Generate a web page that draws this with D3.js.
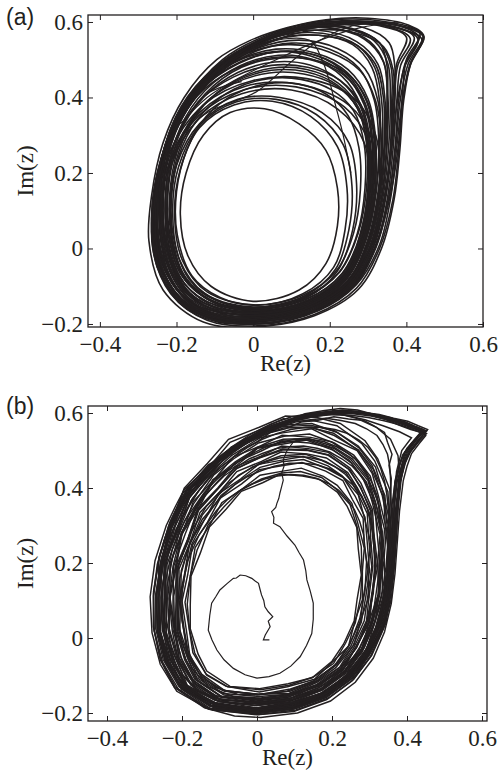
<!DOCTYPE html>
<html>
<head>
<meta charset="utf-8">
<script src="https://cdn.jsdelivr.net/npm/d3@7"></script>
<style>body{margin:0;background:#fff}</style>
</head>
<body>
<div class="container"></div>
<script>
// tick values shared by both panels
const xTicks = [-0.4, -0.2, 0, 0.2, 0.4, 0.6];
const yTicks = [-0.2, 0, 0.2, 0.4, 0.6];

// panel (a): closed orbits, [Re, Im] pairs in thousandths
const loopsA = [
  [0,-140, 120,-110, 190,-40, 220,60, 220,160, 190,260, 120,330, 30,370, -60,360, -130,300, -175,200, -190,90, -170,-20, -110,-100],
  [10,-150, 130,-120, 210,-50, 240,50, 245,160, 220,270, 150,350, 50,390, -50,380, -140,320, -190,210, -205,90, -185,-30, -120,-115],
  [0,-160, 140,-130, 220,-60, 260,50, 270,170, 250,280, 180,360, 70,400, -40,395, -140,330, -200,220, -215,100, -200,-30, -130,-125],
  [10,-165, 150,-135, 240,-65, 280,40, 300,160, 290,280, 220,370, 100,420, -30,410, -140,345, -210,230, -225,100, -210,-35, -140,-130],
  [0,-170, 150,-140, 250,-70, 300,40, 320,170, 310,290, 250,380, 120,435, -20,430, -140,360, -215,240, -235,100, -215,-40, -150,-140],
  [20,-175, 160,-145, 260,-75, 310,40, 330,170, 320,300, 260,400, 140,450, 0,445, -130,380, -220,250, -245,110, -225,-40, -155,-145],
  [0,-155, 135,-125, 215,-55, 250,50, 258,165, 235,275, 165,355, 60,395, -45,388, -140,325, -195,215, -210,95, -192,-30, -125,-120],
  [5,-168, 148,-138, 245,-68, 292,40, 310,165, 300,285, 238,375, 112,428, -25,420, -142,352, -213,235, -230,100, -212,-38, -145,-135],
  [0,-200, 150,-170, 260,-100, 320,10, 355,140, 372,270, 385,400, 405,490, 443,565, 370,593, 220,600, 70,565, -70,500, -170,390, -235,250, -262,100, -245,-40, -175,-150, -90,-190],
  [10,-195, 160,-165, 265,-90, 325,20, 360,150, 380,280, 390,410, 400,500, 435,570, 350,600, 200,605, 50,570, -80,500, -180,380, -240,240, -265,90, -250,-50, -180,-155, -90,-195],
  [0,-190, 150,-160, 255,-90, 315,20, 345,150, 360,280, 365,400, 375,490, 400,560, 330,590, 190,595, 40,555, -90,480, -180,370, -240,230, -260,90, -240,-50, -170,-150, -80,-185],
  [20,-185, 160,-155, 250,-85, 300,20, 330,150, 345,280, 350,400, 350,480, 330,545, 260,580, 140,585, 10,540, -100,470, -190,360, -245,220, -262,80, -240,-55, -170,-150, -80,-180],
  [10,-180, 150,-150, 245,-80, 295,30, 320,150, 330,280, 330,390, 310,480, 260,540, 170,565, 60,555, -50,505, -140,420, -210,310, -250,180, -255,50, -225,-70, -155,-150, -70,-178],
  [0,-185, 140,-160, 245,-95, 305,0, 340,120, 360,250, 375,380, 395,480, 430,555, 380,585, 260,595, 110,575, -30,520, -140,420, -215,290, -250,140, -245,0, -190,-120, -100,-175],
  [10,-205, 160,-175, 270,-105, 330,0, 365,130, 380,260, 390,390, 410,490, 445,560, 400,585, 280,598, 120,580, -20,525, -130,430, -210,300, -255,150, -262,0, -215,-120, -120,-190],
  [0,-180, 140,-150, 240,-80, 290,30, 310,160, 310,280, 290,380, 240,460, 150,510, 40,520, -70,480, -160,390, -220,270, -245,130, -235,-10, -180,-120, -90,-170],
  [10,-190, 150,-160, 250,-90, 305,20, 330,150, 335,280, 320,390, 280,470, 200,520, 90,540, -30,510, -130,430, -205,310, -245,170, -250,20, -200,-110, -100,-180],
  [0,-195, 150,-165, 255,-95, 315,10, 345,140, 360,270, 370,390, 370,480, 355,545, 290,585, 170,590, 30,550, -90,475, -185,365, -243,225, -265,80, -245,-60, -175,-155, -85,-190],
  [20,-200, 170,-165, 270,-95, 330,10, 360,140, 375,270, 390,395, 410,485, 440,555, 390,580, 300,595, 160,585, 20,545, -100,460, -190,340, -245,200, -258,60, -230,-70, -150,-165],
  [0,-200, 150,-170, 260,-100, 320,5, 350,130, 365,260, 375,390, 385,485, 420,560, 350,590, 230,603, 90,580, -40,520, -150,420, -225,280, -258,130, -255,-20, -200,-135, -100,-190],
  [0,-208, 160,-178, 275,-108, 335,0, 368,130, 383,262, 393,392, 412,492, 446,562, 405,592, 300,610, 190,606, 90,585, -10,550, -95,500, -180,400, -235,280, -265,140, -272,20, -235,-110, -130,-195],
  [15,-192, 155,-162, 258,-92, 318,15, 348,145, 362,275, 368,395, 365,475, 340,535, 270,570, 160,578, 40,545, -70,480, -165,380, -228,250, -255,110, -245,-30, -185,-140, -95,-185],
  [5,-185, 145,-155, 245,-88, 302,20, 328,150, 338,280, 335,395, 318,478, 275,535, 195,562, 90,560, -20,520, -120,440, -195,330, -240,195, -252,55, -232,-70, -165,-150, -80,-180],
  [0,-175, 145,-148, 242,-80, 294,30, 315,160, 318,285, 300,385, 255,455, 175,495, 75,505, -30,480, -125,410, -195,305, -235,175, -242,40, -215,-80, -150,-150, -70,-172],
  [0,-158, 135,-130, 225,-62, 272,40, 292,160, 290,275, 262,365, 205,420, 125,448, 40,450, -50,422, -130,360, -185,270, -212,150, -208,30, -168,-80, -90,-140],
  [5,-162, 140,-134, 232,-66, 280,38, 300,160, 298,280, 272,372, 215,432, 132,462, 42,465, -52,436, -138,372, -195,278, -222,152, -215,25, -175,-86, -92,-145],
  [0,-168, 140,-140, 236,-72, 286,36, 306,160, 306,282, 282,380, 226,446, 142,480, 48,485, -52,454, -142,388, -202,288, -228,150, -222,20, -180,-92, -96,-152],
  [8,-172, 146,-144, 240,-74, 290,36, 312,162, 312,286, 290,388, 236,460, 150,500, 52,506, -50,474, -146,404, -208,300, -234,156, -228,16, -184,-98, -98,-158],
  [0,-176, 142,-148, 242,-78, 294,32, 318,160, 320,288, 300,396, 248,474, 162,518, 60,528, -46,496, -146,424, -212,314, -240,160, -234,12, -188,-104, -100,-162],
  [10,-178, 150,-150, 248,-82, 300,26, 326,150, 334,280, 326,390, 292,476, 220,530, 120,552, 10,530, -100,468, -185,370, -235,230, -240,80, -210,-50, -130,-150],
  [0,-182, 146,-154, 250,-86, 305,24, 332,150, 342,282, 340,400, 318,490, 256,548, 150,572, 30,552, -85,490, -180,385, -236,245, -246,95, -220,-45, -140,-155],
  [6,-186, 152,-158, 254,-90, 310,20, 338,148, 350,280, 352,400, 340,495, 290,555, 190,585, 70,570, -50,515, -155,420, -225,285, -250,140, -240,-10, -180,-130, -90,-180],
  [10,-165, 148,-138, 240,-70, 288,36, 306,158, 302,276, 276,372, 222,438, 140,474, 50,478, -44,446, -128,380, -184,284, -214,160, -212,36, -176,-80, -98,-146],
  [0,-170, 144,-142, 238,-74, 288,34, 310,160, 312,284, 292,386, 244,462, 168,510, 72,522, -30,496, -128,428, -196,326, -232,190, -232,50, -196,-70, -110,-150],
  [4,-190, 150,-160, 252,-92, 308,14, 336,140, 348,272, 350,396, 342,490, 305,548, 230,580, 120,582, 0,540, -110,466, -195,360, -242,220, -252,70, -222,-70, -140,-165],
  [0,-160, 138,-134, 232,-68, 282,38, 302,160, 300,282, 280,382, 232,456, 158,500, 66,512, -34,484, -126,418, -190,320, -224,190, -224,54, -190,-66, -108,-140],
  [0,-195, 154,-166, 258,-98, 315,8, 344,134, 358,264, 362,390, 360,480, 330,545, 258,583, 150,590, 30,556, -85,490, -178,386, -236,250, -258,100, -244,-50, -180,-150, -92,-190],
  [0,-150, 130,-124, 218,-58, 262,40, 280,156, 276,268, 248,352, 192,408, 116,436, 34,436, -50,408, -122,350, -172,264, -200,150, -198,36, -160,-72, -86,-130],
  [5,-172, 145,-146, 242,-76, 292,32, 314,158, 316,284, 296,390, 246,466, 164,512, 66,522, -38,490, -138,418, -204,310, -236,168, -232,28, -192,-92, -104,-156],
  [0,-184, 148,-156, 250,-88, 306,20, 334,146, 344,276, 344,396, 326,488, 270,548, 168,578, 50,562, -66,504, -168,404, -232,266, -250,115, -234,-30, -170,-140, -88,-180],
  [10,-164, 144,-136, 236,-68, 284,36, 304,158, 304,280, 280,376, 228,444, 148,486, 56,494, -40,466, -130,400, -192,304, -222,172, -220,40, -184,-76, -104,-142],
  [0,-188, 150,-160, 254,-92, 310,16, 340,142, 354,274, 358,398, 352,488, 316,550, 240,584, 130,588, 10,550, -100,480, -188,376, -240,236, -256,85, -236,-60, -170,-155, -88,-186],
  [5,-178, 146,-150, 244,-80, 296,28, 322,154, 328,284, 316,394, 276,478, 200,528, 100,544, -8,516, -110,446, -188,340, -232,200, -238,56, -206,-74, -128,-150],
  [0,-192, 152,-164, 256,-96, 314,10, 344,136, 360,266, 368,392, 378,486, 410,556, 350,588, 230,600, 100,580, -25,525, -135,430, -212,300, -250,150, -250,0, -198,-125, -100,-180],
  [10,-198, 158,-168, 264,-100, 322,6, 354,134, 370,264, 380,392, 396,488, 432,560, 380,590, 260,602, 120,586, -10,534, -122,440, -202,312, -250,165, -260,15, -215,-115, -118,-185],
  [0,-156, 134,-128, 226,-62, 274,40, 296,160, 296,278, 272,372, 218,434, 138,468, 48,472, -46,442, -132,378, -188,286, -216,164, -214,36, -176,-78, -96,-138]
];
// panel (a): open pieces of the orbit
const openA = [
  [-190,330, -120,400, -40,450, 60,500, 170,550, 280,585, 370,598],
  [-230,200, -140,345, 10,416, 100,495, 167,547, 260,590, 380,598],
  [-20,520, 80,555, 150,550, 180,500, 200,440, 215,380, 235,300, 255,200],
  [-120,412, -70,432, -30,442]
];

// panel (b): noisy orbits, thousandths
const loopsB = [
  [0,-192, 88,-181, 172,-150, 238,-104, 290,-45, 322,28, 343,100, 352,188, 360,262, 366,350, 374,418, 395,495, 424,528, 447,552, 415,560, 385,575, 345,586, 305,598, 258,600, 215,606, 168,598, 118,592, 72,572, 30,562, -12,540, -48,518, -92,484, -130,462, -168,418, -198,386, -232,300, -258,198, -270,108, -263,12, -240,-70, -196,-138, -112,-178],
  [8,-200, 96,-186, 178,-155, 246,-108, 296,-46, 330,22, 350,98, 360,180, 366,258, 372,342, 380,424, 390,462, 402,488, 430,522, 452,545, 425,556, 398,566, 356,580, 318,590, 272,604, 228,608, 180,600, 130,594, 86,576, 42,566, 0,540, -40,520, -80,488, -118,466, -152,424, -186,395, -210,340, -228,300, -256,205, -268,112, -266,18, -246,-60, -202,-132, -120,-180],
  [-5,-180, 84,-170, 166,-140, 230,-96, 280,-38, 312,35, 332,110, 344,190, 350,270, 354,350, 358,425, 352,460, 360,490, 348,522, 340,548, 312,566, 285,580, 244,584, 205,590, 160,580, 118,576, 76,558, 36,548, -2,522, -40,502, -78,470, -112,444, -146,404, -172,372, -216,290, -244,200, -256,108, -252,20, -230,-60, -188,-125, -112,-166],
  [2,-172, 86,-162, 162,-134, 224,-90, 272,-32, 302,38, 322,112, 332,190, 334,268, 328,342, 320,380, 308,412, 292,440, 270,470, 244,492, 212,510, 178,524, 140,530, 100,530, 62,522, 24,510, -12,492, -48,472, -82,446, -112,418, -142,386, -192,314, -226,236, -244,152, -248,66, -238,-16, -210,-88, -160,-140, -90,-166],
  [10,-160, 92,-150, 166,-122, 224,-80, 266,-24, 294,44, 310,118, 316,196, 312,274, 304,312, 294,346, 278,378, 256,408, 226,432, 196,450, 160,462, 124,466, 86,466, 46,458, 10,446, -26,430, -60,408, -92,380, -146,316, -184,240, -206,158, -212,74, -202,-8, -174,-80, -130,-130, -64,-156],
  [-4,-196, 92,-184, 180,-152, 244,-102, 294,-40, 326,32, 346,104, 356,184, 362,266, 370,346, 384,426, 396,468, 410,498, 434,530, 455,556, 430,566, 402,578, 364,586, 326,596, 280,602, 232,598, 188,596, 142,588, 96,578, 52,565, 12,548, -28,528, -66,500, -104,470, -140,436, -176,402, -204,360, -226,310, -250,218, -264,124, -262,30, -244,-54, -204,-126, -124,-174],
  [6,-186, 94,-174, 174,-146, 238,-100, 286,-42, 318,30, 338,104, 348,184, 352,264, 350,344, 346,384, 340,418, 330,452, 316,482, 296,508, 272,528, 240,546, 208,556, 170,562, 130,562, 90,556, 52,545, 14,530, -22,510, -58,486, -94,458, -126,428, -156,392, -204,314, -236,228, -252,138, -254,48, -240,-36, -208,-108, -150,-160, -76,-184],
  [0,-205, 98,-196, 186,-164, 254,-114, 302,-50, 334,20, 354,96, 364,176, 370,258, 376,340, 384,420, 392,460, 404,492, 426,522, 448,548, 420,562, 396,574, 354,588, 312,596, 268,608, 222,612, 176,606, 128,598, 82,580, 38,566, -6,544, -46,522, -86,494, -126,462, -160,428, -194,396, -218,350, -242,300, -272,206, -285,110, -280,14, -258,-70, -214,-142, -128,-190],
  [4,-176, 88,-166, 166,-138, 230,-92, 276,-34, 306,36, 324,110, 332,188, 332,266, 322,340, 312,372, 296,404, 278,432, 254,458, 226,478, 194,496, 160,506, 124,512, 86,510, 50,505, 14,492, -20,478, -54,456, -88,432, -118,402, -146,372, -192,300, -224,222, -240,138, -242,52, -228,-30, -198,-98, -148,-148, -74,-172],
  [-8,-188, 82,-178, 168,-148, 234,-104, 284,-44, 316,28, 336,102, 346,182, 352,262, 358,340, 368,414, 378,452, 388,488, 412,520, 436,548, 406,560, 376,570, 336,580, 296,588, 250,594, 206,596, 160,592, 116,584, 72,570, 30,556, -10,534, -50,512, -88,482, -126,452, -156,416, -184,378, -228,292, -254,198, -264,104, -258,14, -234,-66, -190,-132, -112,-172],
  [10,-212, 108,-200, 196,-168, 262,-118, 310,-54, 340,16, 358,92, 368,172, 374,254, 380,338, 390,420, 400,458, 412,492, 432,518, 450,540, 432,556, 412,568, 370,580, 330,592, 282,598, 236,604, 188,600, 140,594, 94,582, 50,570, 8,550, -34,530, -74,504, -112,474, -146,440, -182,406, -208,360, -232,310, -260,220, -276,124, -276,28, -258,-58, -220,-132, -140,-186, -60,-208],
  [-2,-168, 82,-158, 158,-130, 220,-86, 264,-28, 292,42, 308,118, 314,196, 310,272, 302,310, 294,346, 280,378, 260,410, 236,436, 206,458, 172,474, 136,482, 98,484, 60,480, 24,470, -12,456, -46,434, -80,410, -136,350, -180,276, -208,196, -222,112, -220,28, -204,-50, -170,-112, -110,-154],
  [2,-194, 94,-182, 176,-152, 242,-106, 292,-44, 326,26, 346,100, 358,180, 364,260, 370,344, 378,424, 386,460, 398,494, 420,526, 444,556, 416,566, 390,576, 350,586, 312,596, 266,600, 222,602, 178,596, 134,590, 90,576, 46,562, 6,542, -34,520, -72,492, -112,462, -148,426, -182,392, -208,346, -230,302, -254,206, -268,112, -266,20, -244,-62, -200,-134, -118,-182],
  [6,-190, 96,-178, 178,-148, 242,-102, 290,-42, 322,30, 342,106, 352,186, 356,266, 358,346, 356,424, 354,458, 348,490, 336,516, 320,540, 292,558, 262,572, 224,580, 184,586, 142,582, 102,576, 62,562, 22,548, -16,526, -54,502, -90,474, -124,444, -154,410, -182,372, -224,288, -250,198, -262,106, -258,16, -236,-64, -194,-130, -114,-176],
  [0,-152, 80,-142, 152,-114, 208,-72, 248,-16, 274,52, 288,126, 292,202, 284,276, 274,310, 260,342, 240,370, 218,394, 190,412, 158,426, 124,434, 90,436, 54,432, 20,424, -14,410, -48,392, -80,368, -108,340, -154,276, -186,204, -200,126, -200,46, -186,-30, -156,-92, -110,-132, -52,-150],
  [-4,-198, 90,-188, 176,-156, 244,-108, 294,-46, 328,24, 348,98, 360,178, 366,260, 372,342, 380,422, 388,458, 400,492, 422,524, 446,554, 420,565, 396,576, 356,586, 316,596, 272,604, 226,606, 180,600, 136,594, 92,580, 48,568, 8,548, -32,526, -70,498, -108,468, -142,432, -176,398, -202,354, -224,306, -254,212, -270,118, -270,24, -250,-58, -208,-130, -126,-182],
  [7,-135, 83,-122, 147,-106, 200,-62, 231,-16, 259,45, 267,104, 278,168, 270,238, 266,295, 240,352, 215,388, 167,423, 121,432, 62,437, 15,414, -42,391, -82,344, -127,296, -151,227, -176,165, -178,88, -178,25, -157,-43, -134,-88, -72,-129],
  [6,-144, 81,-130, 153,-110, 200,-65, 244,-22, 261,46, 281,102, 281,178, 286,240, 268,309, 253,359, 214,407, 177,431, 118,453, 69,445, 8,434, -39,398, -94,361, -127,299, -165,241, -178,163, -192,95, -180,19, -171,-39, -134,-99, -82,-129],
  [5,-151, 89,-136, 151,-115, 212,-69, 244,-22, 276,46, 283,106, 296,183, 286,247, 283,319, 254,370, 229,420, 183,445, 120,468, 70,460, 6,449, -41,411, -98,373, -132,309, -172,248, -185,168, -200,98, -188,18, -179,-48, -147,-97, -86,-140],
  [4,-150, 85,-148, 162,-114, 210,-79, 259,-18, 276,46, 298,109, 296,188, 303,255, 284,329, 270,382, 226,433, 189,459, 123,484, 70,475, 4,463, -44,424, -102,385, -138,319, -179,256, -193,173, -208,101, -195,18, -186,-45, -146,-108, -91,-140],
  [2,-163, 92,-147, 158,-125, 224,-76, 258,-26, 292,46, 299,112, 309,193, 303,268, 300,333, 268,400, 242,441, 185,480, 134,491, 64,496, 12,471, -54,444, -99,390, -152,335, -178,256, -208,184, -208,97, -210,25, -185,-54, -160,-106, -88,-152],
  [1,-162, 94,-159, 162,-124, 230,-85, 265,-22, 300,41, 308,121, 322,192, 312,276, 308,342, 277,413, 248,453, 190,495, 137,505, 66,512, 10,485, -57,457, -104,401, -158,345, -185,263, -216,190, -216,98, -218,24, -193,-58, -166,-110, -92,-158],
  [0,-172, 92,-160, 174,-134, 228,-82, 280,-29, 300,48, 324,117, 322,204, 328,276, 308,359, 292,416, 246,474, 202,501, 132,528, 74,518, 2,506, -52,462, -116,420, -156,346, -200,278, -216,186, -232,108, -218,16, -208,-52, -164,-122, -104,-157],
  [-1,-180, 98,-165, 170,-140, 242,-87, 279,-32, 316,48, 325,120, 339,208, 329,292, 324,361, 292,436, 261,479, 199,523, 143,535, 67,541, 9,512, -63,483, -113,424, -170,364, -199,278, -232,199, -232,102, -234,24, -208,-63, -178,-119, -100,-170],
  [-2,-186, 95,-170, 182,-145, 240,-96, 294,-26, 316,48, 341,122, 339,214, 345,291, 324,378, 307,439, 267,500, 203,529, 146,558, 68,547, 8,534, -66,488, -117,443, -176,365, -206,293, -240,196, -240,112, -242,15, -215,-58, -184,-131, -104,-169],
  [-4,-194, 100,-176, 178,-150, 254,-94, 293,-35, 332,42, 342,132, 356,211, 346,307, 341,380, 307,460, 273,506, 208,552, 149,566, 69,570, 7,540, -69,509, -122,447, -182,383, -213,292, -248,209, -248,107, -250,23, -222,-68, -191,-128, -109,-182],
  [-5,-199, 102,-182, 182,-155, 259,-97, 300,-37, 340,42, 350,135, 364,216, 354,314, 349,390, 314,472, 279,519, 213,566, 152,579, 70,585, 6,554, -72,522, -126,458, -188,392, -220,299, -255,213, -256,109, -257,15, -229,-71, -197,-132, -113,-187],
  [8,-138, 86,-126, 150,-104, 204,-68, 236,-14, 262,40, 276,108, 280,172, 278,244, 266,300, 248,356, 210,398, 172,428, 116,444, 66,440, 12,424, -42,396, -88,350, -130,302, -160,234, -178,166, -186,90, -180,22, -166,-40, -136,-96, -78,-130],
  [2,-150, 88,-142, 156,-116, 214,-70, 250,-22, 278,42, 290,110, 300,180, 294,254, 288,322, 262,378, 230,428, 186,452, 124,476, 66,470, 8,455, -46,420, -96,380, -140,316, -174,250, -192,172, -204,96, -194,22, -182,-46, -150,-102, -86,-142],
  [4,-166, 90,-152, 166,-128, 226,-80, 266,-24, 296,40, 306,118, 318,192, 308,272, 306,338, 274,404, 248,448, 188,488, 136,500, 70,502, 6,480, -54,452, -106,396, -156,340, -182,260, -214,186, -212,100, -214,20, -190,-56, -162,-112, -96,-156],
  [0,-176, 96,-164, 172,-136, 236,-86, 280,-30, 310,46, 328,118, 330,206, 334,284, 316,362, 296,426, 254,478, 200,512, 138,532, 70,530, 6,510, -58,470, -114,424, -162,354, -202,280, -224,192, -234,104, -226,18, -210,-58, -170,-120, -102,-162],
  [-4,-188, 98,-174, 180,-146, 250,-96, 292,-30, 324,44, 344,126, 348,212, 350,300, 334,380, 310,450, 270,502, 206,540, 146,562, 70,560, 6,538, -66,498, -120,446, -180,374, -210,294, -244,202, -246,110, -246,20, -220,-64, -186,-130, -108,-176],
  [-6,-202, 104,-188, 186,-158, 262,-102, 304,-36, 344,40, 356,136, 368,220, 360,318, 354,396, 322,478, 288,526, 222,572, 160,588, 76,592, 6,562, -76,530, -132,466, -194,400, -228,306, -262,214, -262,110, -264,14, -236,-74, -202,-136, -118,-192],
  [2,-190, 94,-178, 178,-148, 244,-100, 292,-40, 324,30, 344,104, 354,186, 358,266, 362,346, 368,420, 382,470, 400,506, 428,536, 452,552, 426,562, 394,570, 352,582, 304,592, 256,598, 208,600, 160,594, 110,584, 62,566, 18,546, -24,522, -64,494, -104,462, -142,428, -176,390, -204,346, -228,296, -250,204, -262,110, -258,18, -238,-62, -196,-130, -114,-176],
  [-2,-196, 92,-186, 176,-154, 242,-106, 292,-46, 324,24, 344,98, 356,178, 362,262, 366,344, 372,420, 380,460, 394,496, 420,528, 440,548, 410,556, 378,568, 340,584, 298,596, 250,604, 204,606, 156,600, 108,590, 62,574, 20,554, -22,530, -62,502, -102,472, -138,440, -172,404, -200,362, -224,312, -248,220, -262,124, -262,28, -244,-56, -204,-128, -122,-180],
  [3,-170, 90,-161, 170,-130, 234,-88, 274,-24, 306,40, 318,122, 328,198, 320,282, 314,352, 284,422, 252,466, 194,508, 140,520, 66,526, 10,498, -58,468, -108,414, -162,352, -192,276, -222,192, -224,100, -224,22, -200,-58, -170,-114, -98,-164],
  [-2,-180, 96,-170, 176,-138, 240,-92, 286,-26, 314,44, 334,124, 334,206, 340,290, 320,368, 302,432, 258,488, 206,520, 140,544, 72,538, 4,520, -62,478, -116,434, -168,360, -206,286, -230,196, -238,106, -234,16, -212,-60, -176,-126, -102,-168],
  [-3,-188, 100,-172, 178,-148, 248,-92, 290,-34, 328,44, 338,128, 352,210, 342,302, 338,374, 304,452, 270,500, 204,546, 148,560, 66,564, 8,536, -66,502, -118,444, -180,376, -208,292, -246,204, -244,108, -248,20, -218,-66, -190,-126, -106,-180],
  [-4,-192, 98,-182, 184,-148, 252,-100, 298,-30, 330,46, 348,130, 352,218, 356,302, 336,388, 316,456, 270,512, 214,548, 146,572, 74,568, 2,548, -68,504, -126,452, -182,378, -218,298, -244,206, -254,112, -248,18, -226,-62, -188,-132, -112,-178],
  [4,-156, 90,-150, 160,-118, 220,-78, 256,-20, 286,46, 296,116, 306,190, 298,264, 294,332, 266,392, 238,440, 184,470, 130,490, 64,486, 8,466, -50,434, -100,384, -146,328, -178,254, -202,180, -204,96, -206,22, -182,-52, -156,-104, -90,-148],
  [-2,-200, 100,-186, 184,-156, 256,-104, 302,-40, 338,36, 352,120, 362,206, 364,292, 366,376, 372,444, 386,500, 412,534, 380,550, 336,566, 288,582, 236,594, 180,598, 126,592, 70,576, 18,556, -34,528, -82,494, -126,456, -166,412, -202,356, -232,290, -256,200, -264,108, -262,14, -240,-68, -200,-136, -118,-184],
  [2,-174, 94,-164, 170,-136, 234,-86, 280,-28, 306,44, 326,120, 326,204, 332,280, 312,360, 296,420, 250,476, 204,506, 134,530, 74,522, 0,508, -54,466, -118,422, -158,350, -202,280, -218,188, -234,106, -220,18, -208,-54, -168,-122, -104,-162],
  [0,-164, 92,-154, 164,-126, 228,-84, 264,-22, 298,42, 308,120, 316,194, 310,272, 302,340, 276,404, 244,450, 192,488, 132,502, 68,504, 8,482, -56,452, -104,398, -158,340, -184,262, -212,186, -214,98, -212,22, -192,-54, -160,-110, -94,-156],
  [4,-204, 104,-192, 190,-160, 258,-110, 306,-46, 338,26, 358,104, 366,186, 372,270, 376,352, 380,432, 376,486, 356,530, 318,562, 266,586, 208,600, 150,600, 92,590, 36,570, -16,544, -64,512, -110,474, -150,432, -188,384, -220,330, -246,266, -266,196, -276,118, -276,30, -258,-54, -218,-130, -136,-186],
  [4,-200, 96,-190, 182,-158, 250,-110, 298,-48, 332,22, 352,96, 362,176, 368,258, 374,340, 382,418, 392,462, 406,496, 428,526, 450,550, 424,560, 400,572, 360,584, 320,594, 274,602, 228,606, 182,602, 134,596, 88,580, 44,566, 2,546, -38,522, -78,494, -118,462, -154,426, -188,392, -214,346, -236,298, -262,206, -276,112, -274,18, -252,-64, -210,-136, -128,-188]
];
// panel (b): transient spiralling out from the centre
const transientB = [33,-5, 17,-5, 22,8, 35,30, 30,45, 42,57, 30,70, 21,83, 18,100, 12,115, 8,130, 4,146, -5,152, -14,159, -30,166, -45,168, -55,160, -63,159, -80,145, -99,128, -110,110, -121,93, -126,60, -130,21, -120,-5, -107,-32, -88,-58, -63,-81, -32,-98, 0,-107, 32,-103, 61,-94, 90,-75, 115,-50, 132,-20, 146,12, 150,50, 150,93, 142,125, 133,155, 130,180, 124,208, 112,228, 101,248, 80,272, 61,297, 44,306, 45,322, 39,337, 50,348, 53,359, 58,372, 61,386, 66,405, 70,421, 66,440, 72,458, 70,475, 80,500, 95,520];

const WIDTH = 500;
const HEIGHT = 770;
const INK = "#231f20";
const SERIF = "'Liberation Serif', 'Times New Roman', serif";

var translate = function (x, y) {
    return "translate(" + x + "," + y + ")";
};

var toPoints = function (arr) {
    return d3.range(0, arr.length, 2).map(function (i) { return [arr[i] / 1000, arr[i + 1] / 1000]; });
};

var fmt = function (d) { return d === 0 ? "0" : d3.format(".1f")(d); };

var svg = d3.select('.container').append('svg')
    .attr('width', WIDTH)
    .attr('height', HEIGHT);

var drawPanel = function (p) {
    var w = p.right - p.left, h = p.bottom - p.top;
    var xScale = d3.scaleLinear().domain(p.xDomain).range([0, w]);
    var yScale = d3.scaleLinear().domain(p.yDomain).range([h, 0]);

    var g = svg.append('g').attr('transform', translate(p.left, p.top));

    g.append('clipPath').attr('id', 'clip' + p.id)
        .append('rect').attr('width', w).attr('height', h);

    var plot = g.append('g').attr('clip-path', 'url(#clip' + p.id + ')');

    var closed = d3.line()
        .x(function (d) { return xScale(d[0]); })
        .y(function (d) { return yScale(d[1]); })
        .curve(p.closedCurve);
    var open = d3.line()
        .x(function (d) { return xScale(d[0]); })
        .y(function (d) { return yScale(d[1]); })
        .curve(p.openCurve);

    plot.selectAll('path.loop').data(p.loops).enter().append('path')
        .attr('class', 'loop')
        .attr('d', function (d) { return closed(toPoints(d)); })
        .attr('fill', 'none').attr('stroke', INK).attr('stroke-width', p.sw);
    plot.selectAll('path.open').data(p.open).enter().append('path')
        .attr('class', 'open')
        .attr('d', function (d) { return open(toPoints(d)); })
        .attr('fill', 'none').attr('stroke', INK).attr('stroke-width', 1.2);

    var style = function (ax) {
        ax.select('.domain').remove();
        ax.selectAll('.tick line').attr('stroke', INK).attr('stroke-width', 1);
        ax.selectAll('.tick text')
            .style('font-family', SERIF).style('font-size', '23px')
            .attr('fill', INK);
    };

    g.append('g').attr('transform', translate(0, h))
        .call(d3.axisBottom(xScale).tickValues(xTicks).tickSize(-5).tickPadding(9).tickFormat(fmt))
        .call(style);
    g.append('g')
        .call(d3.axisLeft(yScale).tickValues(yTicks).tickSize(-5).tickPadding(5).tickFormat(fmt))
        .call(style);
    g.append('g')
        .call(d3.axisTop(xScale).tickValues(xTicks).tickSize(-5).tickFormat(''))
        .call(style);
    g.append('g').attr('transform', translate(w, 0))
        .call(d3.axisRight(yScale).tickValues(yTicks).tickSize(-5).tickFormat(''))
        .call(style);

    g.append('rect').attr('width', w).attr('height', h)
        .attr('fill', 'none').attr('stroke', INK).attr('stroke-width', 1.3);

    g.append('text').text('Re(z)')
        .attr('x', w / 2).attr('y', h + 44)
        .attr('text-anchor', 'middle')
        .style('font-family', SERIF).style('font-size', '23px').attr('fill', INK);
    svg.append('text').text('Im(z)')
        .attr('transform', translate(33, p.top + h / 2) + ' rotate(-90)')
        .attr('text-anchor', 'middle')
        .style('font-family', SERIF).style('font-size', '23px').attr('fill', INK);
    svg.append('text').text(p.label)
        .attr('x', 6).attr('y', p.labelY)
        .style('font-family', "'Liberation Sans', Arial, sans-serif").style('font-size', '23px').attr('fill', INK);
};

window.onload = function () {
    drawPanel({
        id: 'a', label: '(a)', labelY: 25,
        left: 88, right: 483, top: 15, bottom: 327,
        xDomain: [-0.431, 0.6], yDomain: [-0.208, 0.6185],
        loops: loopsA, open: openA, sw: 1.6,
        closedCurve: d3.curveCatmullRomClosed.alpha(0.5),
        openCurve: d3.curveCatmullRom.alpha(0.5)
    });
    drawPanel({
        id: 'b', label: '(b)', labelY: 414,
        left: 88, right: 487, top: 406, bottom: 721,
        xDomain: [-0.4507, 0.6133], yDomain: [-0.2213, 0.6187],
        loops: loopsB, open: [transientB], sw: 1.45,
        closedCurve: d3.curveLinearClosed,
        openCurve: d3.curveLinear
    });
};
</script>
</body>
</html>
